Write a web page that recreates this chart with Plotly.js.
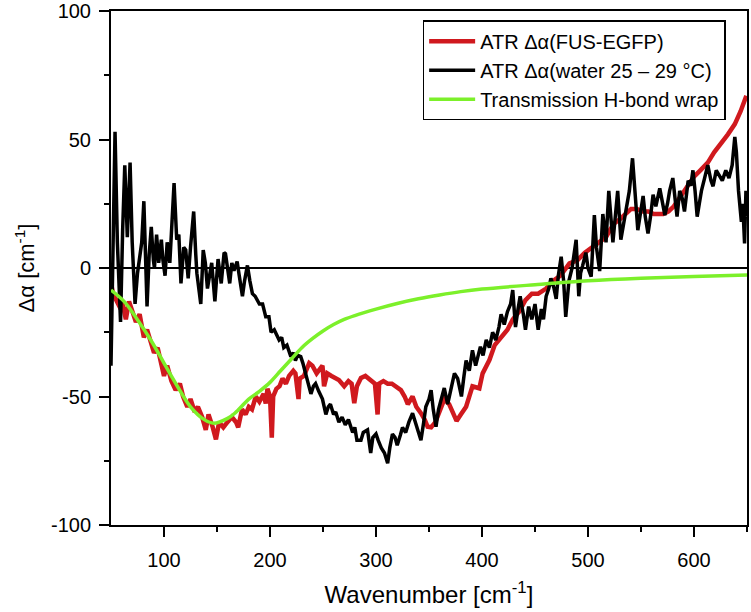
<!DOCTYPE html>
<html>
<head>
<meta charset="utf-8">
<script src="https://cdn.plot.ly/plotly-3.0.1.min.js"></script>
<style>html,body{margin:0;padding:0;background:#fff}#chart{width:751px;height:612px}</style>
</head>
<body>
<div id="chart"></div>
<script>
// ATR Δα (water 25 – 29 °C) — black
const waterX = [50,52,53.8,56,59,61,63,65.4,68,70,72.7,75,77.4,79,81,82.5,84,86,88,90,91,93,95,97.5,99,101,103,105.5,107,109.5,112,114,116,118.6,120.5,122.8,125,128,130,131,134.7,137,139,141,145,148,151,154,156.7,158,162,164,166,169,171,174,176,178.7,181,183.4,186,190,193,196,199,201,204,208.6,211,213,216,219.7,222,224,226,229,231,233.5,236,238.6,241,243,246,249.5,252.7,255,257,260,262,265,268,271,274,278,280,282,285.8,288,292,295,297,300,302,305,308,311,313,315.5,318,320,323,325,328,331,334.5,337,339,342.4,345,347,350,352,354,356.6,359,362,364.4,367.6,370,372,374,377,380.6,383,385,388,391,394,396,398.5,401,404,407,410,413,416,418,421,424,427,429,431.6,434,436,439,441,444,447,450,453,456,458,460.5,463,465,468,470,472,474.7,477,479,482,485,488.8,491.3,493,495,498,500,503,506,508,511,514,517,519.6,523.5,526.7,528,531,534,537,539,542,544,547,549,552,554,556.6,559,561.4,564,567.7,570,572.5,575,577,580,582,584,586.5,589,591,594.5,597,599,601,603,605,607,610,613,616,618,621,624,626.7,630,633,636,638.5,640,642,644.7,646,647.7,649,650];
const waterY = [-38,10,53,10,-21,15,40,12,41,10,-14,-2,4,10,26,5,-15,5,16,3,0,13,2,11,3,-3,10,2,12,33,11,13,-6,8,7,-4,8,22,5,-2,-14,7,2,-8,2,-13,3.5,-6,6,5.6,-6,2,-1,2.5,-3,-11,-5,1,-5,-10,-11,-14,-14,-19,-19,-25,-24,-28,-27,-31,-30,-34.5,-33,-36,-34,-34.5,-37,-41,-44,-49,-46,-45,-48,-51,-57,-54,-53,-57,-56,-60,-58,-61,-59,-64,-62,-67,-67,-64,-63,-72,-66,-64.6,-67,-70,-72,-76,-70,-64.6,-66,-69,-65,-62,-64,-60,-56.5,-60,-62,-67,-60,-54,-51,-47.5,-55,-61.8,-55,-50,-46.7,-53,-48,-44,-41,-43,-50,-42,-36,-40,-32,-38,-34,-30.6,-34,-28,-31,-25,-28,-23,-18,-22,-17,-14,-8.6,-23,-16,-11,-18,-24,-15,-20,-14,-24,-16,-20,-11,-8,-4,-8,-12,-3,4.4,-5,-19,-5,0,11,-11,-2,1,6,0,-3.4,20.6,8,-1.2,21,10,30,10,26,30,11,18,24,30,42.7,30,14.7,20,28,20,13.4,20,28.5,24,31,26,20.6,25,30,35,27,20,30,27,22,34,32,38,30,20,25,30,35,40,34,31.8,38,36,34,38,35,40,51,45,30,18,25,9.6,30,20];

// ATR Δα (FUS-EGFP) — red
const fusX = [50,52,55,58,61,64,67,70,73.5,77,81,84,87,90.6,94,97,100,103,107,111,115,118,122,125,129,132,136,139.4,142,146,149,152,156,160,164,168,170,173.6,177,180,183,186.6,190,194,196,197.6,200,201.7,203,206,209,211.8,215,218,222,224,226.9,228,232,237,240,244,247,249.5,251,254,258,262,265,270,274,277,279.5,282,285.8,290,295,299,301.5,303,307,311,315,319,323.5,327,330,334.5,338,342.4,346,348.7,352,356,360,364.5,369,374,376,380,385,391,397.5,400.6,404,407,412,418,424,429,435,441,447,453,460.5,467,474,482.5,490,497,504.5,511,517,521,525,530,535,540.7,546,552,557,562,566,571,576,581,587.6,593,600,606,613,619,625.7,632,638.5,644,649.4];
const fusY = [-6,-10,-12.5,-15,-14,-20,-13,-17,-21,-18,-27,-24,-28,-33,-31,-36,-42,-38,-44,-47.5,-45,-50,-54,-51,-56,-54,-58,-63,-57,-62,-66.7,-60,-62,-59.9,-58,-60,-62,-55,-57,-54,-55,-50,-52,-49,-52.7,-47,-50,-66,-50,-47,-46,-43,-45,-42,-40,-41,-51,-43,-42,-37,-38,-41,-39,-38,-46,-41,-42,-43,-43.6,-46,-44,-45,-52.6,-46,-42.8,-42,-44,-45,-57,-45,-44,-45,-45,-46,-47.5,-50,-53,-50,-54,-56.5,-59,-61.8,-62,-60,-56,-51,-53,-57.9,-59.5,-57,-54,-46,-46.8,-41,-38,-35.8,-30,-27,-24,-20,-17,-12.5,-10,-10,-8,-5,-3,1.8,3,6,8.3,10,12,15,17.4,19,21,23,23,22,22,21,21,21,22,24,28,31,35.5,38,41,45,48.5,52,56,61,67];

// Transmission H-bond wrap — green
const wrapX = [50,62.3,74.8,87.5,100,112.6,125,138,147,160,166.8,180,190,200,210,220,230,240,250,260,270,280,300,320,340,360,380,400,450,500,550,600,650];
const wrapY = [-8.6,-13,-20,-28,-37,-46,-54,-59,-60.4,-58.5,-56.5,-51,-48,-44.5,-40,-35.5,-31,-27.5,-24.5,-22,-20,-18.5,-16,-13.8,-12,-10.5,-9.2,-8.2,-6.5,-5,-4,-3.3,-2.7];

const xTickVals = [100,200,300,400,500,600];
const yTickVals = [-100,-50,0,50,100];

const FONT = 'Liberation Sans, Arial, sans-serif';

const traces = [
  {x: fusX, y: fusY, mode: 'lines', name: 'ATR Δα(FUS-EGFP)',
   line: {color: '#d0191e', width: 4.5}},
  {x: waterX, y: waterY, mode: 'lines', name: 'ATR Δα(water 25 – 29 °C)',
   line: {color: '#000000', width: 3.5}},
  {x: wrapX, y: wrapY, mode: 'lines', name: 'Transmission H-bond wrap', line: {color: '#7cf02a', width: 3.5, shape: 'spline'}}
];

const layout = {
  width: 751, height: 612,
  margin: {l: 111, r: 4, t: 11, b: 87},
  paper_bgcolor: '#fff', plot_bgcolor: '#fff',
  font: {family: FONT, size: 20, color: '#000'},
  showlegend: true,
  legend: {x: 0.49, y: 0.982, xanchor: 'left', yanchor: 'top',
    bordercolor: '#000', borderwidth: 1.5, bgcolor: '#fff',
    font: {family: FONT, size: 20, color: '#000'}, itemwidth: 46, tracegroupgap: 0},
  xaxis: {
    range: [50, 650], tickvals: xTickVals, ticktext: xTickVals.map(String),
    showgrid: false, zeroline: false, showline: true, linecolor: '#000', linewidth: 2, mirror: true,
    ticks: 'outside', ticklen: 10, tickwidth: 2, tickcolor: '#000',
    minor: {tickvals: [150,250,350,450,550,650], ticks: 'outside', ticklen: 5, tickwidth: 2, tickcolor: '#000', showgrid: false},
    tickfont: {family: FONT, size: 20}, ticklabelstandoff: 6,
    title: {text: 'Wavenumber [cm<sup>-1</sup>]', font: {family: FONT, size: 24}, standoff: 16}
  },
  yaxis: {
    range: [-100, 100], tickvals: yTickVals, ticktext: yTickVals.map(String),
    showgrid: false, zeroline: true, zerolinecolor: '#000', zerolinewidth: 1.5,
    showline: true, linecolor: '#000', linewidth: 2, mirror: true,
    ticks: 'outside', ticklen: 10, tickwidth: 2, tickcolor: '#000',
    minor: {tickvals: [-75,-25,25,75], ticks: 'outside', ticklen: 5, tickwidth: 2, tickcolor: '#000', showgrid: false},
    tickfont: {family: FONT, size: 20}, ticklabelstandoff: 4,
    title: {text: 'Δα [cm<sup>-1</sup>]', font: {family: FONT, size: 22}, standoff: 10}
  }
};

Plotly.newPlot('chart', traces, layout, {staticPlot: true, displayModeBar: false});
</script>
</body>
</html>
